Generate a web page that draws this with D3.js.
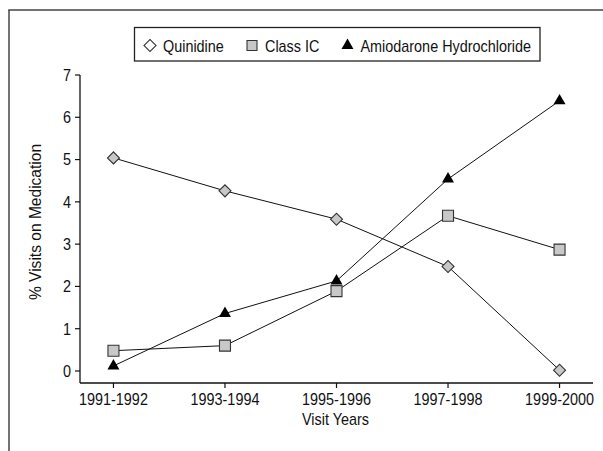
<!DOCTYPE html>
<html lang="en">
<head>
<meta charset="utf-8">
<title>Visits on Medication</title>
<script src="https://cdn.jsdelivr.net/npm/d3@7/dist/d3.min.js"></script>
<style>
  html, body { margin: 0; padding: 0; overflow: hidden; background: #fff; }
  svg { display: block; }
  svg text { font-family: "Liberation Sans", Arial, sans-serif; font-size: 16px; fill: #111; }
</style>
</head>
<body>
<script>
var years = ["1991-1992", "1993-1994", "1995-1996", "1997-1998", "1999-2000"];
var quinidine = [5.04, 4.26, 3.59, 2.47, 0.02];
var classIC = [0.48, 0.60, 1.89, 3.67, 2.87];
var amiodarone = [0.12, 1.36, 2.13, 4.54, 6.39];
var yTicks = [0, 1, 2, 3, 4, 5, 6, 7];
var seriesNames = ["Quinidine", "Class IC", "Amiodarone Hydrochloride"];

var W = 603, H = 451;
var sx = 0.9; // squeeze text horizontally, the original uses a condensed face
var svg = d3.select("body").append("svg").attr("width", W).attr("height", H);

function label(parent, px, py, txt, anchor, rot) {
  return parent.append("text")
    .attr("transform", "translate(" + px + "," + py + ")" + (rot ? " rotate(" + rot + ")" : "") + " scale(" + sx + ",1)")
    .attr("text-anchor", anchor || "start").text(txt);
}

// outer frame: left edge and top edge only
svg.append("line").attr("x1", 9).attr("x2", 9).attr("y1", 10).attr("y2", H)
  .attr("stroke", "#444").attr("stroke-width", 1.5);
svg.append("line").attr("x1", 8.25).attr("x2", W).attr("y1", 10).attr("y2", 10)
  .attr("stroke", "#444").attr("stroke-width", 1.5);

var left = 80, right = 593, axisY = 383;
var x = d3.scalePoint().domain(years).range([left, right]).padding(0.3);
var y = d3.scaleLinear().domain([0, 7]).range([371, 75]);

// y axis
var gy = svg.append("g").attr("transform", "translate(" + left + ",0)");
gy.append("line").attr("x1", 0).attr("x2", 0).attr("y1", y(7)).attr("y2", axisY)
  .attr("stroke", "#111").attr("stroke-width", 1.3);
gy.selectAll(".tk").data(yTicks).enter().append("line")
  .attr("x1", -5).attr("x2", 0).attr("y1", d => y(d)).attr("y2", d => y(d))
  .attr("stroke", "#111").attr("stroke-width", 1.2);
yTicks.forEach(function (d) { label(gy, -9, y(d) + 5.8, d, "end"); });

// x axis
var gx = svg.append("g").attr("transform", "translate(0," + axisY + ")");
gx.append("line").attr("x1", left).attr("x2", right).attr("y1", 0).attr("y2", 0)
  .attr("stroke", "#111").attr("stroke-width", 1.3);
gx.selectAll(".tk").data(years).enter().append("line")
  .attr("x1", d => x(d)).attr("x2", d => x(d)).attr("y1", 0).attr("y2", 5)
  .attr("stroke", "#111").attr("stroke-width", 1.2);
years.forEach(function (d) { label(gx, x(d), 22, d, "middle"); });

label(svg, (left + right) / 2 - 1, 425, "Visit Years", "middle");
label(svg, 41, 222, "% Visits on Medication", "middle", -90).style("font-size", "17.3px");

// series
var series = [
  { name: seriesNames[0], values: quinidine, shape: "diamond" },
  { name: seriesNames[1], values: classIC, shape: "square" },
  { name: seriesNames[2], values: amiodarone, shape: "triangle" }
];

function marker(sel, shape, legend) {
  if (shape === "diamond") {
    sel.append("path").attr("d", d3.symbol().type(d3.symbolSquare).size(72)())
      .attr("transform", "rotate(45)")
      .attr("fill", legend ? "#fff" : "#c8c8c8").attr("stroke", "#333").attr("stroke-width", 1.1);
  } else if (shape === "square") {
    sel.append("path").attr("d", d3.symbol().type(d3.symbolSquare).size(legend ? 100 : 121)())
      .attr("fill", "#c8c8c8").attr("stroke", "#333").attr("stroke-width", 1.1);
  } else {
    sel.append("path").attr("d", d3.symbol().type(d3.symbolTriangle).size(62)())
      .attr("fill", "#000");
  }
}

var line = d3.line().x((d, i) => x(years[i])).y(d => y(d));
series.forEach(function (s) {
  svg.append("path").attr("d", line(s.values)).attr("fill", "none")
    .attr("stroke", "#111").attr("stroke-width", 1);
});
series.forEach(function (s) {
  s.values.forEach(function (v, i) {
    var g = svg.append("g").attr("transform", "translate(" + x(years[i]) + "," + y(v) + ")");
    marker(g, s.shape, false);
  });
});

// legend
svg.append("rect").attr("x", 134.5).attr("y", 27.5).attr("width", 405.5).attr("height", 33.5)
  .attr("fill", "#fff").attr("stroke", "#222").attr("stroke-width", 1.3);
var legX = [150, 252, 347.5];
series.forEach(function (s, i) {
  var g = svg.append("g").attr("transform", "translate(" + legX[i] + ",45.5)");
  marker(g, s.shape, true);
  label(svg, legX[i] + 13, 51.5, s.name, "start");
});
</script>
</body>
</html>
